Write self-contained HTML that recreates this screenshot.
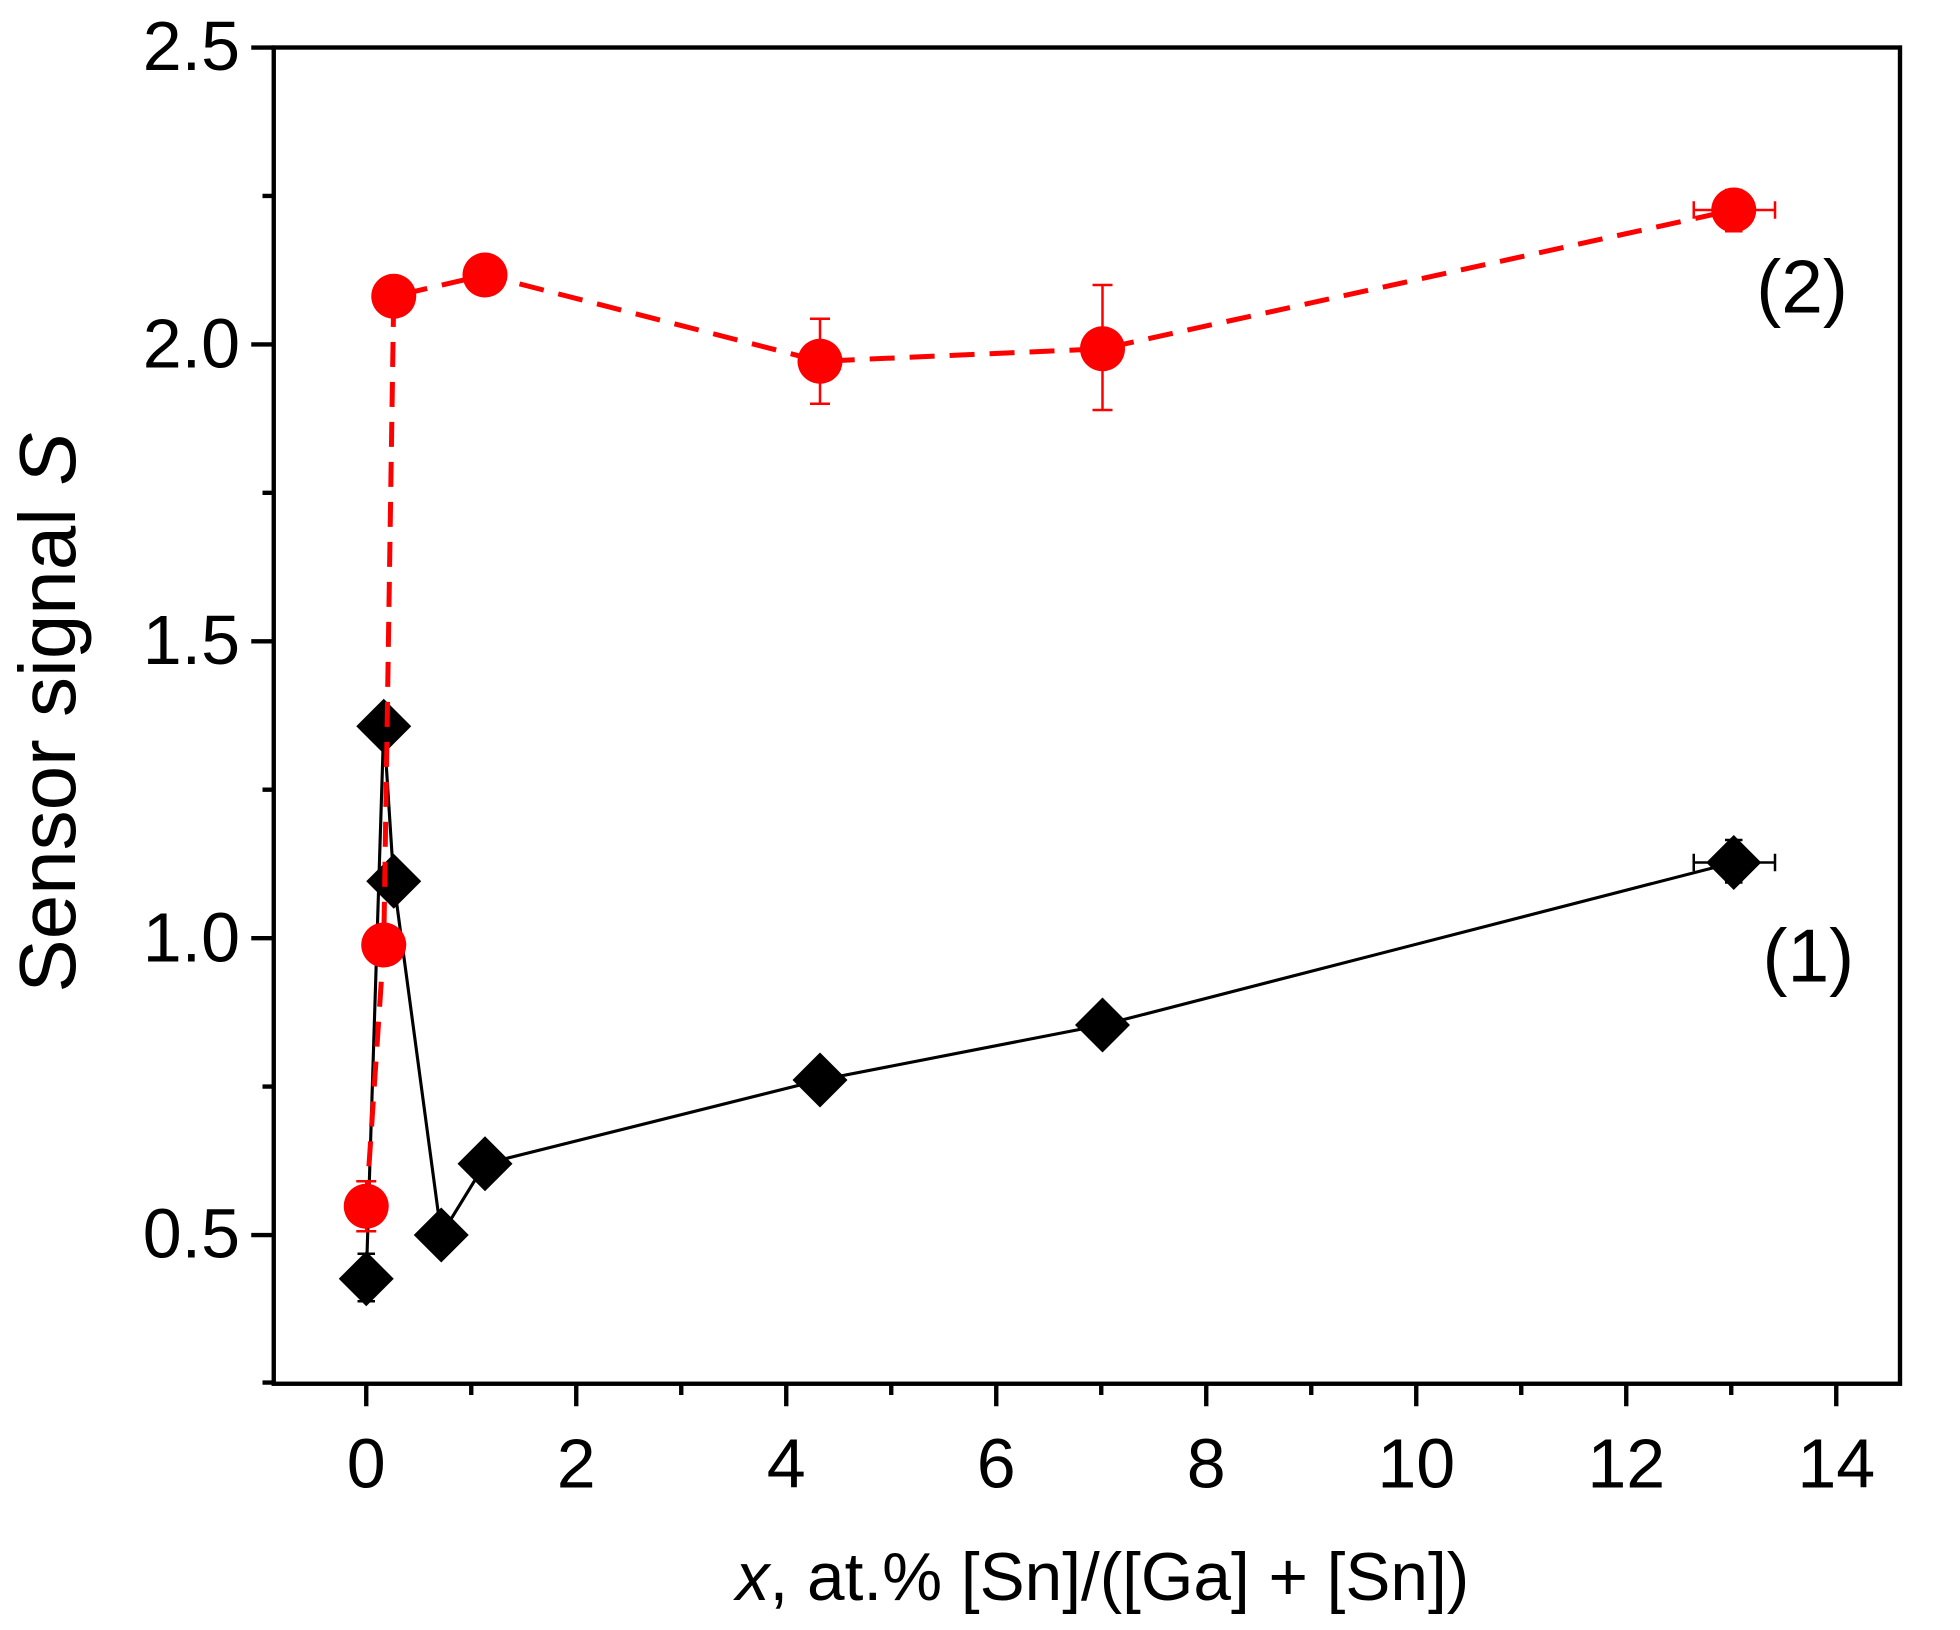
<!DOCTYPE html>
<html><head><meta charset="utf-8"><style>html,body{margin:0;padding:0;background:#fff}svg{display:block}</style></head>
<body>
<svg width="1960" height="1630" viewBox="0 0 1568 1304" xmlns="http://www.w3.org/2000/svg" font-family="Liberation Sans, Arial, sans-serif">
<rect width="1568" height="1304" fill="#fff"/>
<g stroke="#000" stroke-width="3.5" fill="none">
<rect x="219" y="38" width="1301" height="1069"/>
<path d="M219 38h-18M219 513h-18M219 988h-18M219 275.5h-18M219 750.5h-18M219 156.75h-9M219 394.25h-9M219 631.75h-9M219 869.25h-9M219 1106h-9"/>
<path d="M293 1107v18M461 1107v18M629 1107v18M797 1107v18M965 1107v18M1133 1107v18M1301 1107v18M1469 1107v18M377 1107v9M545 1107v9M713 1107v9M881 1107v9M1049 1107v9M1217 1107v9M1385 1107v9"/>
</g>
<g font-size="56" fill="#000" text-anchor="end">
<text x="192" y="56">2.5</text><text x="192" y="294">2.0</text><text x="192" y="531">1.5</text><text x="192" y="769">1.0</text><text x="192" y="1006">0.5</text>
</g>
<g font-size="56" fill="#000" text-anchor="middle">
<text x="293" y="1190">0</text><text x="461" y="1190">2</text><text x="629" y="1190">4</text><text x="797" y="1190">6</text><text x="965" y="1190">8</text><text x="1133" y="1190">10</text><text x="1301" y="1190">12</text><text x="1469" y="1190">14</text>
<text x="882" y="1280" font-size="54"><tspan font-style="italic">x</tspan>, at.% [Sn]/([Ga] + [Sn])</text>
<text transform="translate(60,570) rotate(-90)" font-size="64">Sensor signal <tspan font-style="italic">S</tspan></text>
</g>
<text x="1405" y="250" font-size="60">(2)</text>
<text x="1410" y="785" font-size="60">(1)</text>
<polyline fill="none" stroke="#000" stroke-width="2.5" points="293,1023 307,581 315,705 353,988 388,931 656,864 882,820 1387,690"/>
<g stroke="#000" stroke-width="2" fill="none">
<path d="M293 1003v38M286 1003h14M286 1041h14M1387 672v34M1380 672h14M1380 706h14M1355 690h65M1355 683v14M1420 683v14M882 803v34M656 848v32"/>
</g>
<g fill="#000">
<path d="M293 1001l22 22-22 22-22-22z"/><path d="M307 559l22 22-22 22-22-22z"/><path d="M315 683l22 22-22 22-22-22z"/><path d="M353 966l22 22-22 22-22-22z"/><path d="M388 909l22 22-22 22-22-22z"/><path d="M656 842l22 22-22 22-22-22z"/><path d="M882 798l22 22-22 22-22-22z"/><path d="M1387 668l22 22-22 22-22-22z"/>
</g>
<polyline fill="none" stroke="#f00" stroke-width="4" stroke-dasharray="20,12" points="293,965 307,756 315,237 388,220 656,289 882,279 1387,168"/>
<g stroke="#f00" stroke-width="2" fill="none">
<path d="M293 945v40M285 945h16M285 985h16M656 255v68M648 255h16M648 323h16M882 228v100M874 228h16M874 328h16M1387 152v33M1380 152h14M1380 185h14M1355 168h65M1355 161v14M1420 161v14"/>
</g>
<g fill="#f00">
<circle cx="293" cy="965" r="18"/><circle cx="307" cy="756" r="18"/><circle cx="315" cy="237" r="18"/><circle cx="388" cy="220" r="18"/><circle cx="656" cy="289" r="18"/><circle cx="882" cy="279" r="18"/><circle cx="1387" cy="168" r="18"/>
</g>
</svg>
</body></html>
